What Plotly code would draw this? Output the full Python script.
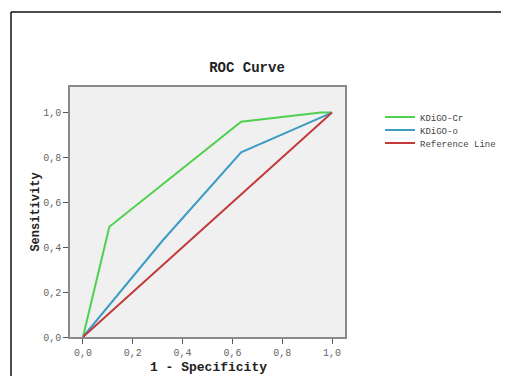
import plotly.graph_objects as go

# Data
kdigo_cr_x = [0.0, 0.106, 0.635, 0.955, 1.0]
kdigo_cr_y = [0.0, 0.491, 0.959, 1.0, 1.0]
kdigo_o_x = [0.0, 0.32, 0.635, 1.0]
kdigo_o_y = [0.0, 0.43, 0.823, 1.0]
ref_x = [0.0, 1.0]
ref_y = [0.0, 1.0]
series_names = ["KDiGO-Cr", "KDiGO-o", "Reference Line"]
tick_vals = [0.0, 0.2, 0.4, 0.6, 0.8, 1.0]
tick_text = ["0,0", "0,2", "0,4", "0,6", "0,8", "1,0"]

FONT = "Liberation Mono, Courier New, monospace"
OFF = 8  # page body margin
W, H = 509 - 2 * OFF, 376 - OFF
L, T = 70 - OFF, 87 - OFF
R = W - (345 - OFF)
B = H - (337 - OFF)
pw, ph = W - L - R, H - T - B

def px_x(page_x):
    return (page_x - OFF - L) / pw

def px_y(page_y):
    return (H - B - (page_y - OFF)) / ph

fig = go.Figure()
fig.add_trace(go.Scatter(x=kdigo_cr_x, y=kdigo_cr_y, mode="lines", name=series_names[0],
                         line=dict(color="#4fd04f", width=2), legend="legend"))
fig.add_trace(go.Scatter(x=kdigo_o_x, y=kdigo_o_y, mode="lines", name=series_names[1],
                         line=dict(color="#3b9cc4", width=2), legend="legend2"))
fig.add_trace(go.Scatter(x=ref_x, y=ref_y, mode="lines", name=series_names[2],
                         line=dict(color="#c23b3b", width=2), legend="legend3"))

leg_common = dict(xanchor="left", yanchor="middle", bgcolor="rgba(0,0,0,0)",
                  font=dict(size=9, family=FONT, color="#444"), itemwidth=30)

fig.update_layout(
    width=W, height=H,
    margin=dict(l=L, r=R, t=T, b=B, autoexpand=False),
    paper_bgcolor="white",
    plot_bgcolor="#f0f0f0",
    font=dict(family=FONT, color="#333"),
    title=dict(text="<b>ROC Curve</b>", x=px_x(247), xref="paper", xanchor="center",
               y=1 - (67 - OFF) / H, yanchor="middle",
               font=dict(size=14, family=FONT, color="#222")),
    showlegend=True,
    legend=dict(x=px_x(380), y=px_y(117), **leg_common),
    legend2=dict(x=px_x(380), y=px_y(130), **leg_common),
    legend3=dict(x=px_x(380), y=px_y(143), **leg_common),
    xaxis=dict(range=[-0.052, 1.052], tickvals=tick_vals, ticktext=tick_text,
               showgrid=False, zeroline=False, showline=True, mirror=True,
               linecolor="#8a8a8a", linewidth=1.5, ticks="outside", ticklen=5,
               tickcolor="#555", tickfont=dict(size=10, color="#666", family=FONT),
               title=dict(text="")),
    yaxis=dict(range=[0, 1.114], tickvals=tick_vals, ticktext=tick_text,
               showgrid=False, zeroline=False, showline=True, mirror=True,
               linecolor="#8a8a8a", linewidth=1.5, ticks="outside", ticklen=5,
               tickcolor="#555", tickfont=dict(size=10, color="#666", family=FONT),
               title=dict(text="<b>Sensitivity</b>", standoff=0,
                          font=dict(size=12, color="#222", family=FONT))),
)

# X-axis title as an annotation so it can sit near the bottom edge
fig.add_annotation(text="<b>1 - Specificity</b>", xref="paper", yref="paper",
                   x=px_x(208), y=px_y(367), xanchor="center", yanchor="middle",
                   showarrow=False, font=dict(size=13, color="#222", family=FONT))

# Outer frame (top and left edges of the screenshot border)
fig.add_shape(type="line", xref="paper", yref="paper",
              x0=px_x(11), y0=px_y(12), x1=px_x(520), y1=px_y(12),
              line=dict(color="#111", width=1.5))
fig.add_shape(type="line", xref="paper", yref="paper",
              x0=px_x(11), y0=px_y(12), x1=px_x(11), y1=px_y(390),
              line=dict(color="#111", width=1.5))

fig.write_html("out.html")
